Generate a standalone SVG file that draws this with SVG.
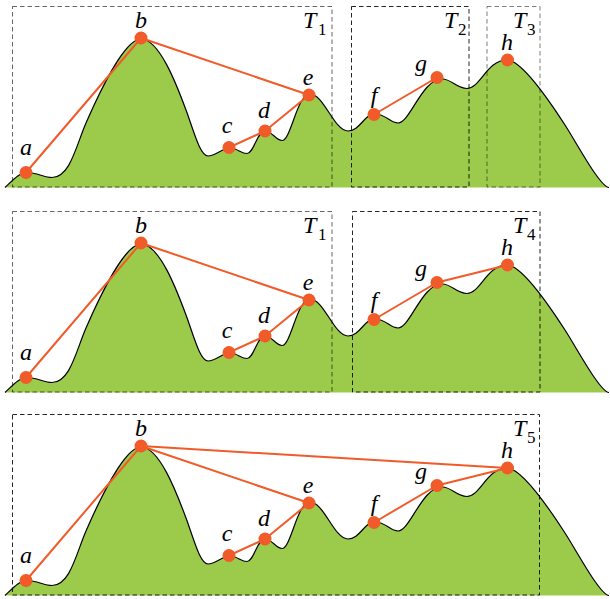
<svg xmlns="http://www.w3.org/2000/svg" xmlns:xlink="http://www.w3.org/1999/xlink" width="610" height="599" viewBox="0 0 610 599">
<style>
.terrain{fill:#9ccb4c;stroke:#000;stroke-width:1.2}
.box{fill:none;stroke:#000;stroke-width:1;stroke-dasharray:4.5,3}
.edge{stroke:#f15a29;stroke-width:2;fill:none;stroke-linecap:round}
.dot{fill:#f15a29}
.lbl{font-style:italic;font-size:24px;text-anchor:middle}
.tl{font-size:24px}
.t{font-style:italic}
.s{font-size:17px;font-style:normal}
</style>
<defs>
<path id="terrain" class="terrain" d="M5,187.5 C14,179 20,172.5 27,172.5 C37,172.5 44,177.5 52,177.5 C70,177.5 76,146 86,123 C100,90.8 125,39 141,39 C159,39 176,83 186,110 C194,131.6 200,156 208,156 C216,156 222,148 230,148 C237,148 241,153.5 247,153.5 C254,153.5 257,131 265,131 C272,131 276,140.5 282,140.5 C291,140.5 297,94 310,94 C324,94 334,131 348,131 C360,131 364,114 375,114 C386,114 390,123 398,123 C410,123 422,79 442,79 C452,79 456,88.5 467,88.5 C480,88.5 487,60 507,60 C523,60 555,109.5 565,125 C577,143.6 600,187 609,187.5"/>
</defs>

<!-- Panel 1 -->
<g id="panel1" font-family="Liberation Serif, Times New Roman, serif">
<use href="#terrain" xlink:href="#terrain"/>
<g id="p1-boxes">
<rect id="p1-T1" class="box" x="12.5" y="6.5" width="319.5" height="180.5" stroke-opacity="0.6"/>
<rect id="p1-T2" class="box" x="351.5" y="6.5" width="117.5" height="180.5" stroke-opacity="0.85"/>
<rect id="p1-T3" class="box" x="487" y="6.5" width="53" height="180.5" stroke-opacity="0.5"/>
</g>
<g id="p1-connectors">
<line class="edge" x1="26" y1="172.5" x2="141" y2="38"/>
<line class="edge" x1="141" y1="38" x2="309" y2="95"/>
<line class="edge" x1="229" y1="147.5" x2="265" y2="131"/>
<line class="edge" x1="265" y1="131" x2="309" y2="95"/>
<line class="edge" x1="374" y1="114.5" x2="437" y2="77.5"/>
</g>
<g id="p1-a"><circle class="dot" cx="26" cy="172.5" r="6.5"/><text class="lbl" x="26" y="155">a</text></g>
<g id="p1-b"><circle class="dot" cx="141" cy="38" r="6.5"/><text class="lbl" x="141" y="28">b</text></g>
<g id="p1-c"><circle class="dot" cx="229" cy="147.5" r="6.5"/><text class="lbl" x="227" y="133">c</text></g>
<g id="p1-d"><circle class="dot" cx="265" cy="131" r="6.5"/><text class="lbl" x="264" y="118">d</text></g>
<g id="p1-e"><circle class="dot" cx="309" cy="95" r="6.5"/><text class="lbl" x="308" y="85">e</text></g>
<g id="p1-f"><circle class="dot" cx="374" cy="114.5" r="6.5"/><text class="lbl" x="374" y="103">f</text></g>
<g id="p1-g"><circle class="dot" cx="437" cy="77.5" r="6.5"/><text class="lbl" x="421" y="71">g</text></g>
<g id="p1-h"><circle class="dot" cx="507.5" cy="60" r="6.5"/><text class="lbl" x="507" y="50">h</text></g>
<text class="tl" x="303" y="28"><tspan class="t">T</tspan><tspan class="s" x="318" y="35">1</tspan></text>
<text class="tl" x="444" y="28"><tspan class="t">T</tspan><tspan class="s" x="458" y="35">2</tspan></text>
<text class="tl" x="513" y="28"><tspan class="t">T</tspan><tspan class="s" x="527" y="35">3</tspan></text>
</g>

<!-- Panel 2 -->
<g id="panel2" transform="translate(0,205)" font-family="Liberation Serif, Times New Roman, serif">
<use href="#terrain" xlink:href="#terrain"/>
<g id="p2-boxes">
<rect id="p2-T1" class="box" x="12.5" y="6.5" width="319.5" height="180.5" stroke-opacity="0.6"/>
<rect id="p2-T4" class="box" x="352.5" y="6.5" width="187.5" height="180.5" stroke-opacity="0.85"/>
</g>
<g id="p2-connectors">
<line class="edge" x1="26" y1="172.5" x2="141" y2="38"/>
<line class="edge" x1="141" y1="38" x2="309" y2="95"/>
<line class="edge" x1="229" y1="147.5" x2="265" y2="131"/>
<line class="edge" x1="265" y1="131" x2="309" y2="95"/>
<line class="edge" x1="374" y1="114.5" x2="437" y2="77.5"/>
<line class="edge" x1="437" y1="77.5" x2="507.5" y2="60"/>
</g>
<g id="p2-a"><circle class="dot" cx="26" cy="172.5" r="6.5"/><text class="lbl" x="26" y="155">a</text></g>
<g id="p2-b"><circle class="dot" cx="141" cy="38" r="6.5"/><text class="lbl" x="141" y="28">b</text></g>
<g id="p2-c"><circle class="dot" cx="229" cy="147.5" r="6.5"/><text class="lbl" x="227" y="133">c</text></g>
<g id="p2-d"><circle class="dot" cx="265" cy="131" r="6.5"/><text class="lbl" x="264" y="118">d</text></g>
<g id="p2-e"><circle class="dot" cx="309" cy="95" r="6.5"/><text class="lbl" x="308" y="85">e</text></g>
<g id="p2-f"><circle class="dot" cx="374" cy="114.5" r="6.5"/><text class="lbl" x="374" y="103">f</text></g>
<g id="p2-g"><circle class="dot" cx="437" cy="77.5" r="6.5"/><text class="lbl" x="421" y="71">g</text></g>
<g id="p2-h"><circle class="dot" cx="507.5" cy="60" r="6.5"/><text class="lbl" x="507" y="50">h</text></g>
<text class="tl" x="303" y="28"><tspan class="t">T</tspan><tspan class="s" x="318" y="35">1</tspan></text>
<text class="tl" x="513" y="28"><tspan class="t">T</tspan><tspan class="s" x="527" y="35">4</tspan></text>
</g>

<!-- Panel 3 -->
<g id="panel3" transform="translate(0,408)" font-family="Liberation Serif, Times New Roman, serif">
<use href="#terrain" xlink:href="#terrain"/>
<g id="p3-boxes">
<rect id="p3-T5" class="box" x="12.5" y="6.5" width="527" height="180.5" stroke-opacity="0.85"/>
</g>
<g id="p3-connectors">
<line class="edge" x1="26" y1="172.5" x2="141" y2="38"/>
<line class="edge" x1="141" y1="38" x2="309" y2="95"/>
<line class="edge" x1="141" y1="38" x2="507.5" y2="60"/>
<line class="edge" x1="229" y1="147.5" x2="265" y2="131"/>
<line class="edge" x1="265" y1="131" x2="309" y2="95"/>
<line class="edge" x1="374" y1="114.5" x2="437" y2="77.5"/>
<line class="edge" x1="437" y1="77.5" x2="507.5" y2="60"/>
</g>
<g id="p3-a"><circle class="dot" cx="26" cy="172.5" r="6.5"/><text class="lbl" x="26" y="155">a</text></g>
<g id="p3-b"><circle class="dot" cx="141" cy="38" r="6.5"/><text class="lbl" x="141" y="28">b</text></g>
<g id="p3-c"><circle class="dot" cx="229" cy="147.5" r="6.5"/><text class="lbl" x="227" y="133">c</text></g>
<g id="p3-d"><circle class="dot" cx="265" cy="131" r="6.5"/><text class="lbl" x="264" y="118">d</text></g>
<g id="p3-e"><circle class="dot" cx="309" cy="95" r="6.5"/><text class="lbl" x="308" y="85">e</text></g>
<g id="p3-f"><circle class="dot" cx="374" cy="114.5" r="6.5"/><text class="lbl" x="374" y="103">f</text></g>
<g id="p3-g"><circle class="dot" cx="437" cy="77.5" r="6.5"/><text class="lbl" x="421" y="71">g</text></g>
<g id="p3-h"><circle class="dot" cx="507.5" cy="60" r="6.5"/><text class="lbl" x="507" y="50">h</text></g>
<text class="tl" x="513" y="28"><tspan class="t">T</tspan><tspan class="s" x="527" y="35">5</tspan></text>
</g>
</svg>
